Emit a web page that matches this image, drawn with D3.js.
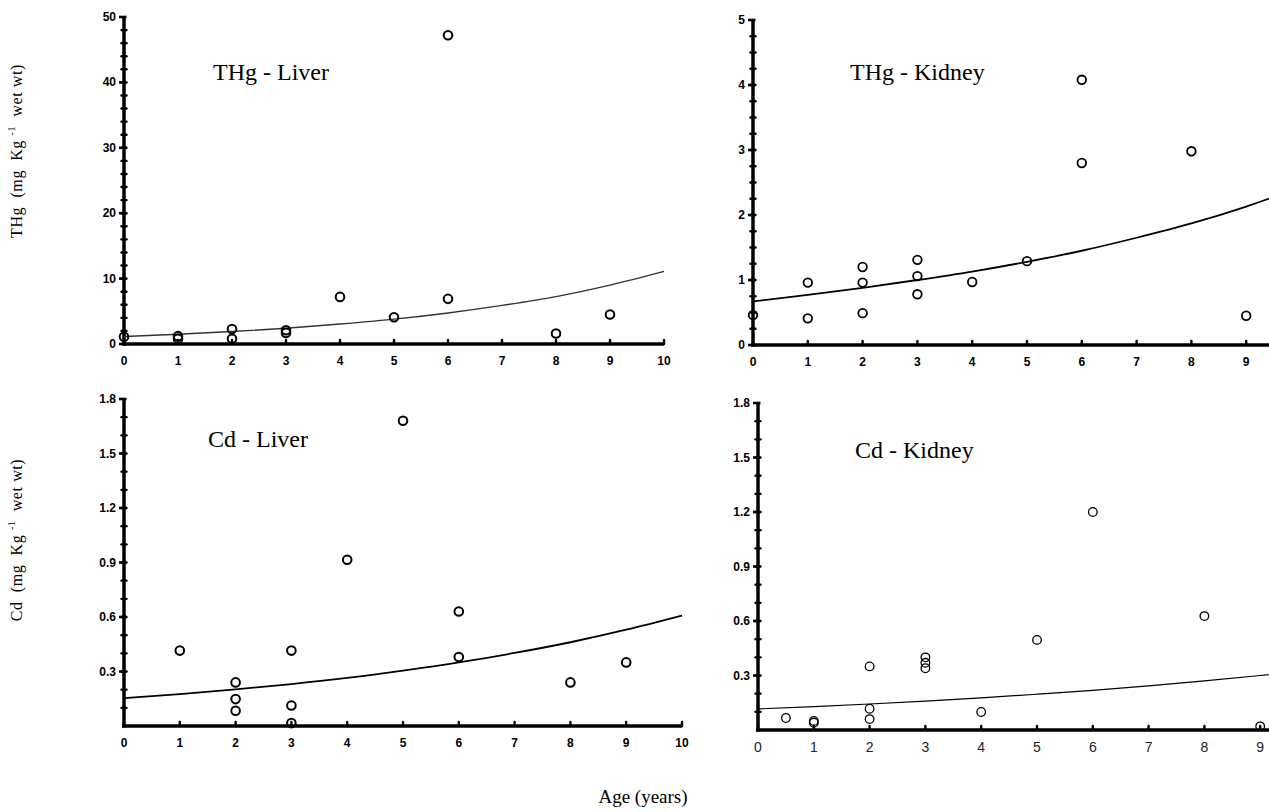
<!DOCTYPE html>
<html><head>
<meta charset="utf-8">
<script src="https://d3js.org/d3.v7.min.js"></script>
<style>
  body { margin: 0; background: #fff; }
  svg { display: block; }
</style>
</head>
<body>
<svg id="chart" width="1269" height="812"></svg>
<script>
const fitAges = [0,1,2,3,4,5,6,7,8,9,10];

// THg - Liver
const thgLiverAge = [0,1,1,2,2,3,3,4,5,6,6,8,9];
const thgLiverVal = [1.1,0.8,1.2,2.3,0.8,1.7,2.1,7.2,4.1,47.2,6.9,1.6,4.5];
const thgLiverFit = [1.15,1.5,1.9,2.4,3.05,3.8,4.75,5.9,7.25,9.0,11.1];

// THg - Kidney
const thgKidneyAge = [0,1,1,2,2,2,3,3,3,4,5,6,6,8,9];
const thgKidneyVal = [0.46,0.96,0.41,1.20,0.96,0.49,1.31,1.06,0.78,0.97,1.29,4.08,2.80,2.98,0.45];
const thgKidneyFit = [0.67,0.77,0.88,1.0,1.13,1.28,1.45,1.65,1.87,2.13,2.43];

// Cd - Liver
const cdLiverAge = [1,2,2,2,3,3,3,4,5,6,6,8,9];
const cdLiverVal = [0.415,0.24,0.148,0.084,0.415,0.113,0.016,0.915,1.68,0.63,0.38,0.24,0.35];
const cdLiverFit = [0.153,0.176,0.202,0.231,0.265,0.305,0.35,0.402,0.461,0.53,0.608];

// Cd - Kidney
const cdKidneyAge = [0.5,1,1,2,2,2,3,3,3,4,5,6,8,9];
const cdKidneyVal = [0.066,0.05,0.04,0.35,0.117,0.06,0.40,0.37,0.34,0.099,0.496,1.2,0.627,0.02];
const cdKidneyFit = [0.116,0.129,0.143,0.159,0.177,0.197,0.218,0.243,0.27,0.30,0.333];

// tick labels
const ageTicks = [0,1,2,3,4,5,6,7,8,9,10];
const thgLiverTicks = [0,10,20,30,40,50];
const thgKidneyTicks = [0,1,2,3,4,5];
const cdTicks = [0.3,0.6,0.9,1.2,1.5,1.8];

let svg = d3.select("svg#chart");
const svgWidth = +svg.attr("width");

const panels = [
  {title: "THg - Liver", ages: thgLiverAge, vals: thgLiverVal, fit: thgLiverFit,
   ymax: 50, yticks: thgLiverTicks, minor: 2, fmt: d3.format("d"),
   left: 124, right: 664, bottom: 344, top: 17, tx: 213, ty: 80,
   dotW: 2, fitW: 1.4, fitCol: "#333", xBold: true},
  {title: "THg - Kidney", ages: thgKidneyAge, vals: thgKidneyVal, fit: thgKidneyFit,
   ymax: 5, yticks: thgKidneyTicks, minor: 0.25, fmt: d3.format("d"),
   left: 753, right: 1301, bottom: 345, top: 20, tx: 850, ty: 80,
   dotW: 1.8, fitW: 1.8, fitCol: "#000", xBold: true},
  {title: "Cd - Liver", ages: cdLiverAge, vals: cdLiverVal, fit: cdLiverFit,
   ymax: 1.8, yticks: cdTicks, minor: 0.1, fmt: d3.format(".1f"),
   left: 124, right: 682, bottom: 726, top: 399, tx: 208, ty: 447,
   dotW: 2, fitW: 1.8, fitCol: "#000", xBold: true},
  {title: "Cd - Kidney", ages: cdKidneyAge, vals: cdKidneyVal, fit: cdKidneyFit,
   ymax: 1.8, yticks: cdTicks, minor: 0.1, fmt: d3.format(".1f"),
   left: 758, right: 1316, bottom: 730, top: 403, tx: 855, ty: 458,
   dotW: 1.3, fitW: 1.2, fitCol: "#000", xBold: false}
];

panels.forEach(p => {
  let g = svg.append("g");

  let xScale = d3.scaleLinear().domain([0, 10]).range([p.left, p.right]);
  let yScale = d3.scaleLinear().domain([0, p.ymax]).range([p.bottom, p.top]);

  // minor ticks on the y axis
  for (let v = p.minor; v < p.ymax - 1e-6; v += p.minor) {
    g.append("line")
      .attr("x1", p.left - 2.5).attr("x2", p.left + 2.5)
      .attr("y1", yScale(v)).attr("y2", yScale(v))
      .style("stroke", "#000").style("stroke-width", 2.4)
      .style("stroke-linecap", "round");
  }

  // major ticks + labels on the y axis
  p.yticks.forEach(v => {
    g.append("line")
      .attr("x1", p.left - 5).attr("x2", p.left + 2.5)
      .attr("y1", yScale(v)).attr("y2", yScale(v))
      .style("stroke", "#000").style("stroke-width", 2.6);
    g.append("text")
      .attr("x", p.left - 8)
      .attr("y", yScale(v) + 4)
      .attr("text-anchor", "end")
      .style("font-family", "'Liberation Sans', Arial, sans-serif")
      .style("font-weight", "bold")
      .style("font-size", "12px")
      .text(p.fmt(v));
  });

  // x ticks + labels (labels past the page edge are left out)
  ageTicks.forEach(a => {
    g.append("line")
      .attr("x1", xScale(a)).attr("x2", xScale(a))
      .attr("y1", p.bottom - 4).attr("y2", p.bottom)
      .style("stroke", "#000").style("stroke-width", 2.4)
      .style("stroke-linecap", "round");
    if (xScale(a) > svgWidth - 4) return;
    g.append("text")
      .attr("x", xScale(a))
      .attr("y", p.bottom + (p.xBold ? 21 : 22))
      .attr("text-anchor", "middle")
      .style("font-family", "'Liberation Sans', Arial, sans-serif")
      .style("font-weight", p.xBold ? "bold" : "normal")
      .style("font-size", p.xBold ? "12px" : "14px")
      .style("fill", p.xBold ? "#000" : "#222")
      .text(a);
  });

  // axis lines
  g.append("line")
    .attr("x1", p.left).attr("x2", p.left)
    .attr("y1", p.top).attr("y2", p.bottom + 1.5)
    .style("stroke", "#000").style("stroke-width", 3.5);
  g.append("line")
    .attr("x1", p.left - 2).attr("x2", p.right)
    .attr("y1", p.bottom).attr("y2", p.bottom)
    .style("stroke", "#000").style("stroke-width", 3.5);

  // fitted curve
  let line = d3.line()
    .x((d, i) => xScale(fitAges[i]))
    .y(d => yScale(d))
    .curve(d3.curveMonotoneX);
  g.append("path")
    .attr("d", line(p.fit))
    .style("fill", "none")
    .style("stroke", p.fitCol)
    .style("stroke-width", p.fitW);

  // observations
  p.ages.forEach((a, i) => {
    g.append("circle")
      .attr("cx", xScale(a))
      .attr("cy", yScale(p.vals[i]))
      .attr("r", 4.3)
      .style("fill", "none")
      .style("stroke", "#000")
      .style("stroke-width", p.dotW);
  });

  // panel title
  g.append("text")
    .attr("x", p.tx).attr("y", p.ty)
    .style("font-family", "'Liberation Serif', 'Times New Roman', serif")
    .style("font-size", "24px")
    .text(p.title);
});

// y axis titles
function yTitle(name, cx, cy) {
  let t = svg.append("text")
    .attr("transform", "translate(" + cx + "," + cy + ") rotate(-90)")
    .attr("text-anchor", "middle")
    .style("font-family", "'Liberation Serif', 'Times New Roman', serif")
    .style("font-size", "16px")
    .style("letter-spacing", "0.6px")
    .style("white-space", "pre");
  t.append("tspan").text(name + "  (mg  Kg ");
  t.append("tspan").attr("dy", -7).style("font-size", "10px").text("-1");
  t.append("tspan").attr("dy", 7).text("  wet wt)");
}
yTitle("THg", 22, 151);
yTitle("Cd", 22, 540);

svg.append("text")
  .attr("x", 643).attr("y", 803)
  .attr("text-anchor", "middle")
  .style("font-family", "'Liberation Serif', 'Times New Roman', serif")
  .style("font-size", "19px")
  .text("Age (years)");
</script>
</body>
</html>
